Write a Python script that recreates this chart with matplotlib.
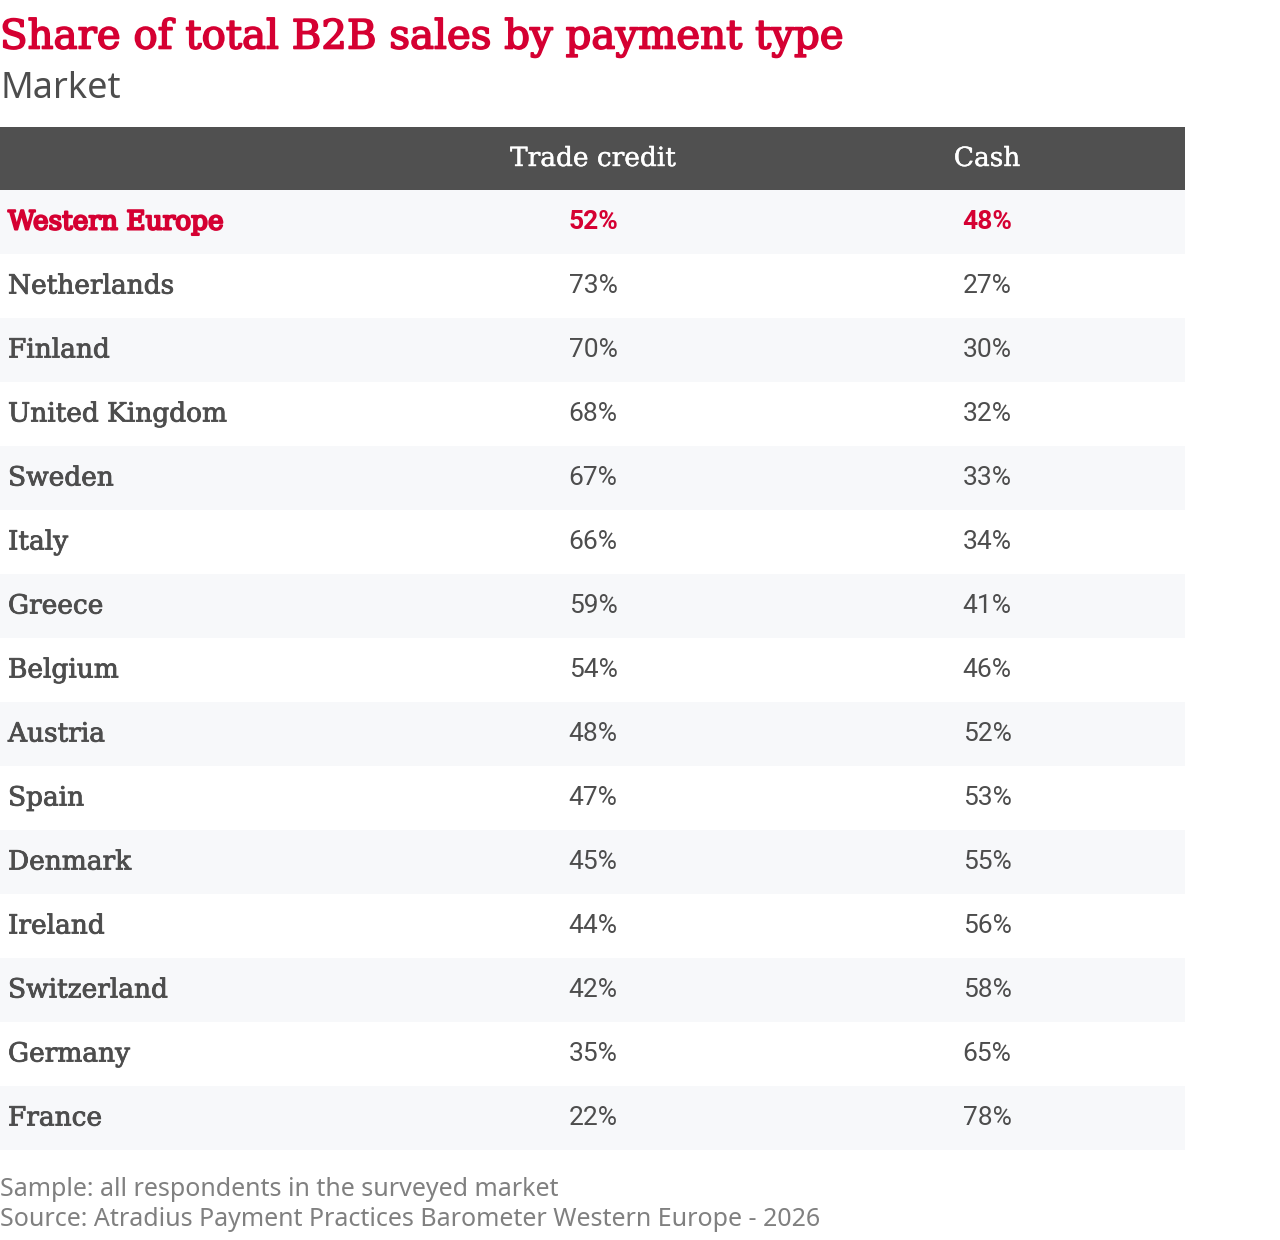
import matplotlib
matplotlib.use("Agg")
import matplotlib.pyplot as plt
import matplotlib.patheffects as pe
import numpy as np

markets = ["Western Europe", "Netherlands", "Finland", "United Kingdom", "Sweden",
           "Italy", "Greece", "Belgium", "Austria", "Spain", "Denmark", "Ireland",
           "Switzerland", "Germany", "France"]
trade_credit = [52, 73, 70, 68, 67, 66, 59, 54, 48, 47, 45, 44, 42, 35, 22]
cash = [48, 27, 30, 32, 33, 34, 41, 46, 52, 53, 55, 56, 58, 65, 78]
columns = ["Trade credit", "Cash"]

RED = "#d50032"
DARK = "#4d4d4d"
HEAD = "#505050"
SHADE = "#f7f8fa"

fig = plt.figure(figsize=(12.8, 12.4), dpi=100)
ax = fig.add_axes([0, 0, 1, 1])
ax.set_xlim(0, 1280)
ax.set_ylim(1240, 0)
ax.axis("off")

serif = "DejaVu Serif"
sans = "Roboto"

def heavy(c, w):
    return [pe.withStroke(linewidth=w, foreground=c)]

ax.text(0, 38, "Share of total B2B sales by payment type", color=RED,
        fontsize=29, family=serif, va="center", ha="left",
        path_effects=heavy(RED, 1.2))
ax.text(0, 89, "Market", color=DARK, fontsize=26, family="Noto Sans",
        va="center", ha="left")

top = 127
head_h = 63
row_h = 64
width = 1185
col_x = [593, 987]

ax.add_patch(plt.Rectangle((0, top), width, head_h, color=HEAD, lw=0))
for cx, name in zip(col_x, columns):
    ax.text(cx, top + head_h / 2, name, color="white", fontsize=19,
            family=serif, va="center", ha="center",
            path_effects=heavy("white", 0.3))

y0 = top + head_h
for i, (m, tc, c) in enumerate(zip(markets, trade_credit, cash)):
    y = y0 + i * row_h
    if i % 2 == 0:
        ax.add_patch(plt.Rectangle((0, y), width, row_h, color=SHADE, lw=0))
    first = i == 0
    col = RED if first else DARK
    yc = y + row_h / 2
    ax.text(8, yc, m, color=col, fontsize=19, family=serif,
            va="center", ha="left",
            path_effects=heavy(col, 1.5 if first else 0.6))
    for cx, v in zip(col_x, [tc, c]):
        ax.text(cx, yc, f"{v}%", color=col, fontsize=19, family=sans,
                fontweight="bold" if first else "normal",
                va="center", ha="center")

ax.text(0, 1190, "Sample: all respondents in the surveyed market", color="#808080",
        fontsize=18, family="Noto Sans", va="center", ha="left")
ax.text(0, 1220, "Source: Atradius Payment Practices Barometer Western Europe - 2026",
        color="#808080", fontsize=18, family="Noto Sans", va="center", ha="left")

fig.savefig("out.png", dpi=100, facecolor="white")
